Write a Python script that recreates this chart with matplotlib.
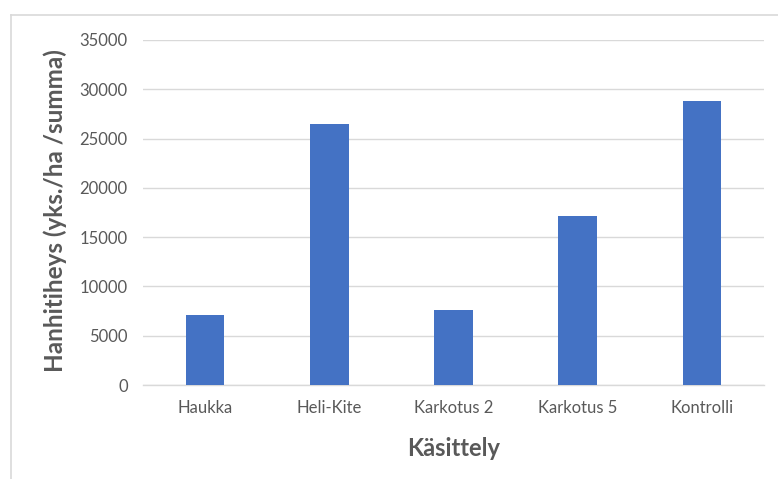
import matplotlib
matplotlib.use("Agg")
import matplotlib.pyplot as plt
from matplotlib.lines import Line2D

categories = ["Haukka", "Heli-Kite", "Karkotus 2", "Karkotus 5", "Kontrolli"]
values = [7100, 26500, 7650, 17100, 28850]
yticks = [0, 5000, 10000, 15000, 20000, 25000, 30000, 35000]

plt.rcParams["font.family"] = ["Lato", "DejaVu Sans"]

W, H = 778, 479
fig = plt.figure(figsize=(W / 100, H / 100), dpi=100)
fig.patch.set_facecolor("white")

ax = fig.add_axes([143 / W, 1 - 385 / H, (764 - 143) / W, (385 - 40) / H])
x = range(len(categories))
ax.bar(x, values, width=0.31, color="#4472C4", zorder=3)

ax.set_xlim(-0.5, len(categories) - 0.5)
ax.set_ylim(0, 35000)
ax.set_yticks(yticks)
ax.set_yticklabels([str(v) for v in yticks])
ax.set_xticks(list(x))
ax.set_xticklabels(categories)

ax.grid(axis="y", color="#d9d9d9", linewidth=1.0, zorder=0)
for side in ["top", "right", "left"]:
    ax.spines[side].set_visible(False)
ax.spines["bottom"].set_color("#d9d9d9")
ax.spines["bottom"].set_linewidth(1.0)
ax.tick_params(axis="both", length=0, labelsize=12, labelcolor="#595959")
ax.tick_params(axis="y", pad=11)
ax.tick_params(axis="x", pad=11)

fig.text(55 / W, 1 - 211 / H, "Hanhitiheys (yks./ha /summa)", rotation=90,
         ha="center", va="center", fontsize=17.5, fontweight="bold", color="#595959")
fig.text((143 + 764) / 2 / W, 1 - 448 / H, "Käsittely",
         ha="center", va="center", fontsize=17, fontweight="bold", color="#595959")

# chart frame
fig.add_artist(Line2D([11 / W, 1.0], [1 - 15 / H, 1 - 15 / H], color="#d9d9d9", linewidth=1.2,
                      transform=fig.transFigure))
fig.add_artist(Line2D([11 / W, 11 / W], [0.0, 1 - 15 / H], color="#d9d9d9", linewidth=1.2,
                      transform=fig.transFigure))

fig.savefig("out.png", dpi=100)
